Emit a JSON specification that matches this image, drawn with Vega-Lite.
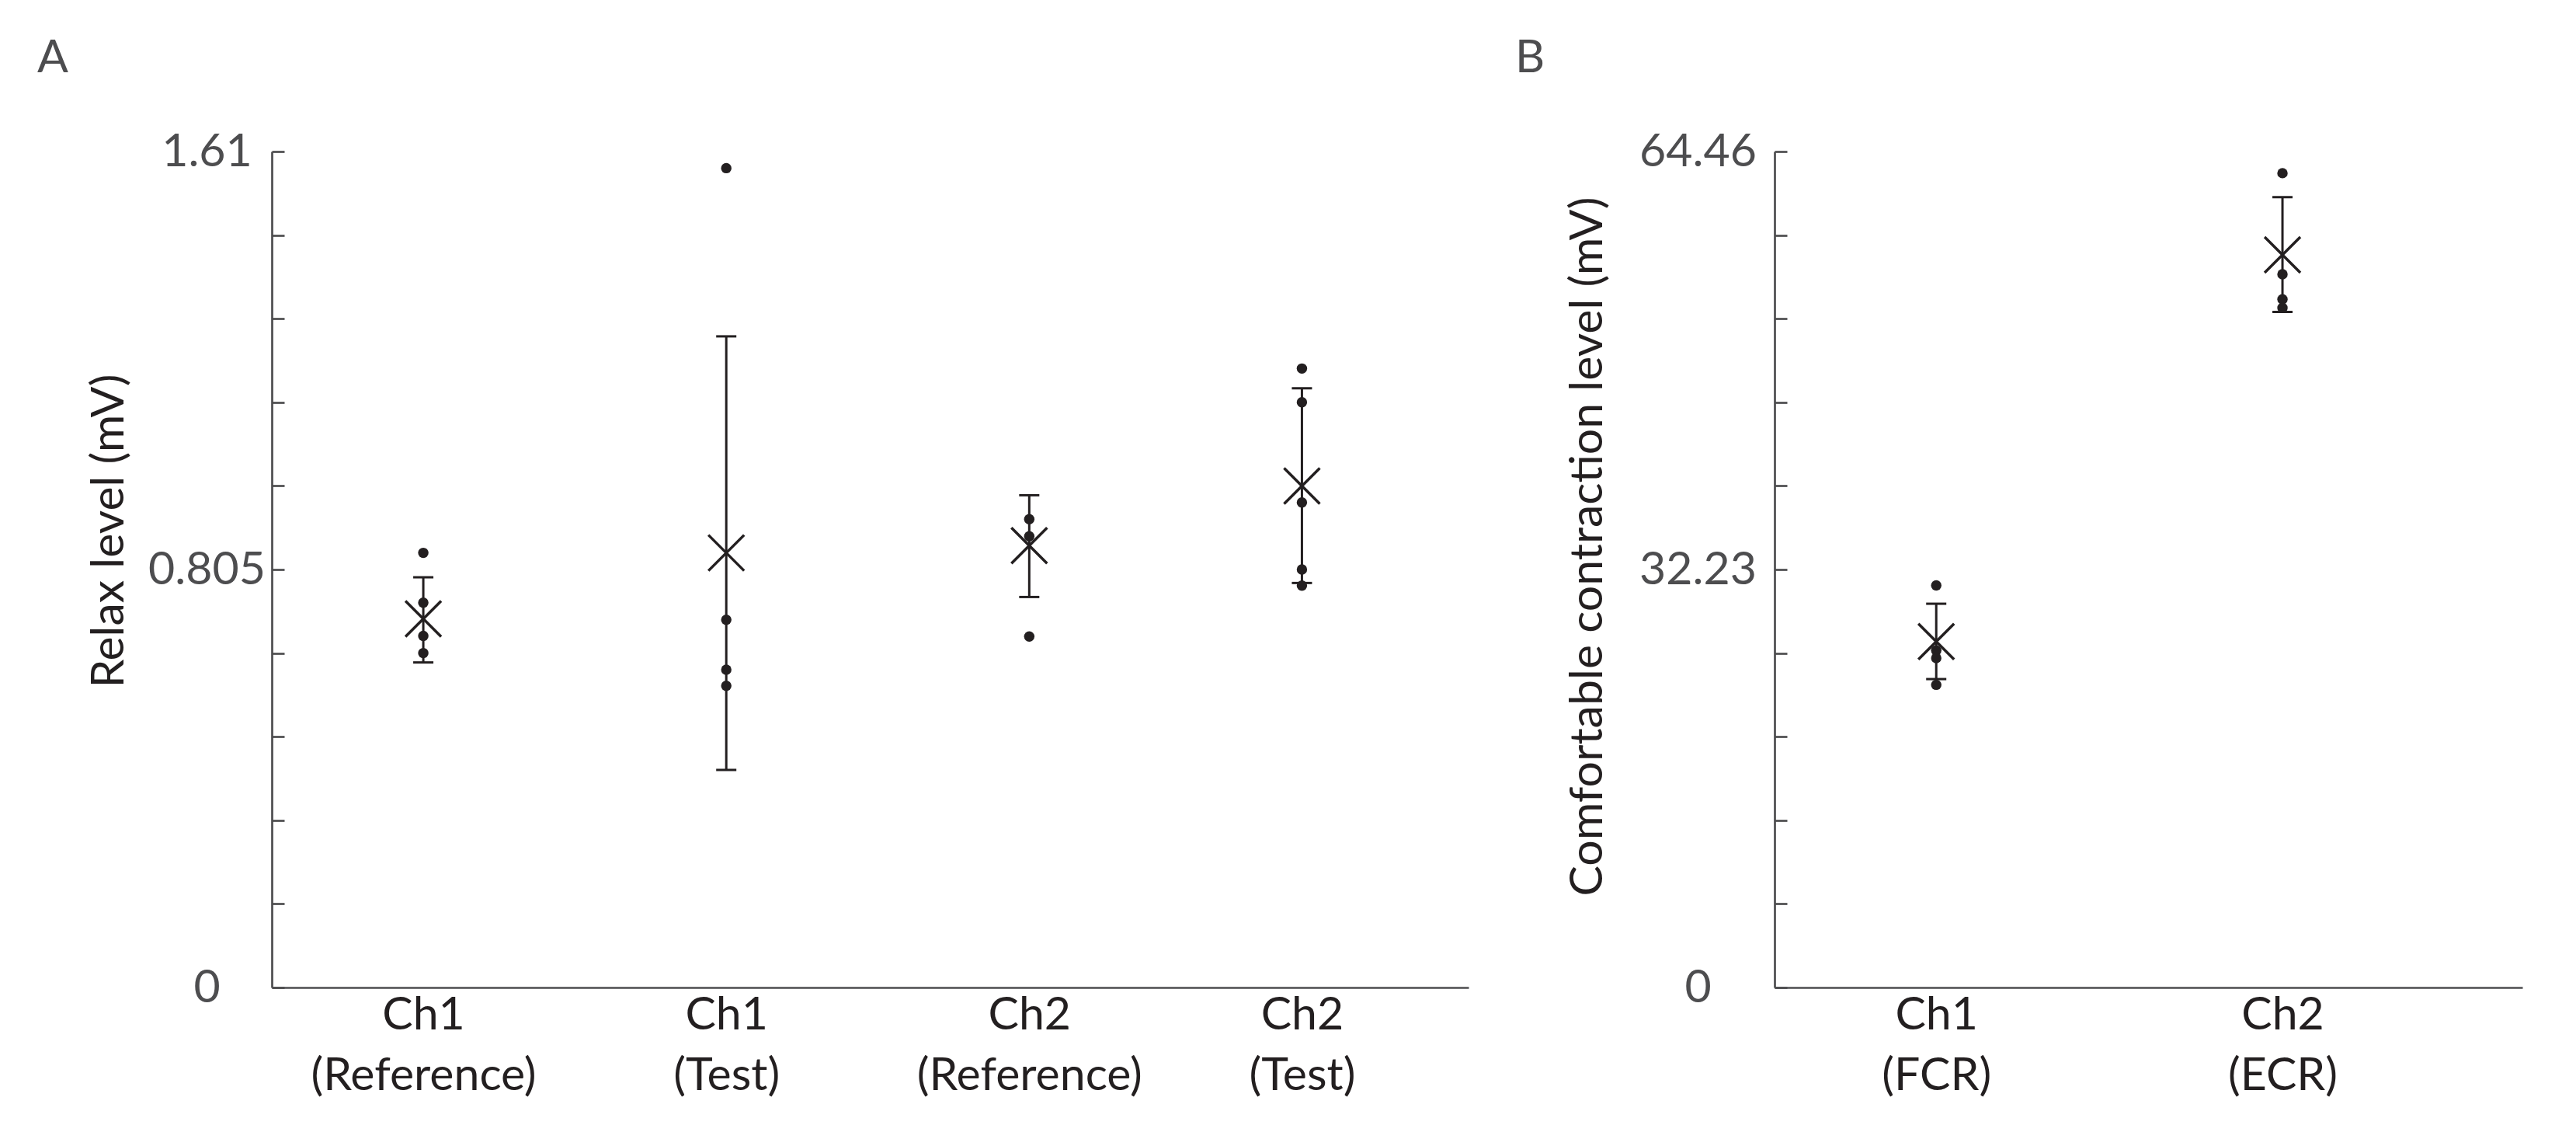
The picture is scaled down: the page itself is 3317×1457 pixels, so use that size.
{
  "$schema": "https://vega.github.io/schema/vega-lite/v6.json",
  "background": "white",
  "padding": {"left": 48, "top": 46, "right": 10, "bottom": 10},
  "spacing": 60,
  "config": {
    "view": {"stroke": null},
    "font": "Lato",
    "axis": {
      "grid": false,
      "domainColor": "#4d4d4f",
      "domainWidth": 2.7,
      "tickColor": "#4d4d4f",
      "tickWidth": 2.7,
      "labelFont": "Lato",
      "titleFont": "Lato",
      "labelFontSize": 59,
      "titleFontSize": 59,
      "titleFontWeight": "normal",
      "titleColor": "#231f20",
      "labelOverlap": false,
      "labelBound": false,
      "labelFlush": false,
      "labelLimit": 2000
    }
  },
  "hconcat": [
    {
      "width": 1541,
      "height": 1076,
      "title": {"text": "A", "anchor": "start", "frame": "group", "dx": -302, "baseline": "alphabetic", "offset": 14, "fontSize": 59, "font": "Lato", "fontWeight": "normal", "color": "#4d4d4f"},
      "layer": [
        {
          "data": {"values": [
            {"group": "Ch1 (Reference)", "pos": 1, "mean": 0.710, "lo": 0.626, "hi": 0.790},
            {"group": "Ch1 (Test)", "pos": 2, "mean": 0.837, "lo": 0.419, "hi": 1.254},
            {"group": "Ch2 (Reference)", "pos": 3, "mean": 0.851, "lo": 0.752, "hi": 0.948},
            {"group": "Ch2 (Test)", "pos": 3.9, "mean": 0.966, "lo": 0.779, "hi": 1.154}
          ]},
          "layer": [
            {
              "mark": {"type": "rule", "color": "#231f20", "strokeWidth": 3},
              "encoding": {
                "x": {"field": "pos", "type": "quantitative", "scale": {"domain": [0.5, 4.45], "nice": false, "zero": false},
                  "axis": {"values": [1, 2, 3, 3.9], "ticks": false, "tickSize": 0, "labelPadding": 6, "labelLineHeight": 78, "labelColor": "#231f20", "labelBaseline": "top",
                    "labelExpr": "datum.value == 1 ? ['Ch1', '(Reference)'] : datum.value == 2 ? ['Ch1', '(Test)'] : datum.value == 3 ? ['Ch2', '(Reference)'] : ['Ch2', '(Test)']",
                    "title": null}},
                "y": {"field": "lo", "type": "quantitative", "scale": {"domain": [0, 1.61], "nice": false, "zero": true},
                  "axis": {"values": [0, 0.161, 0.322, 0.483, 0.644, 0.805, 0.966, 1.127, 1.288, 1.449, 1.61], "tickSize": -16, "labelPadding": 100, "labelAlign": "center", "labelBaseline": "middle", "labelColor": "#4d4d4f",
                    "labelExpr": "datum.value == 0 ? '0' : datum.value == 0.805 ? '0.805' : datum.value == 1.61 ? '1.61' : ''",
                    "title": "Relax level (mV)", "titleX": -192, "titleY": 488, "titleAlign": "center", "titleBaseline": "alphabetic", "titleAngle": -90}},
                "y2": {"field": "hi"}
              }
            },
            {
              "mark": {"type": "tick", "orient": "horizontal", "size": 26, "thickness": 3, "color": "#231f20", "opacity": 1},
              "encoding": {"x": {"field": "pos", "type": "quantitative"}, "y": {"field": "lo", "type": "quantitative"}}
            },
            {
              "mark": {"type": "tick", "orient": "horizontal", "size": 26, "thickness": 3, "color": "#231f20", "opacity": 1},
              "encoding": {"x": {"field": "pos", "type": "quantitative"}, "y": {"field": "hi", "type": "quantitative"}}
            },
            {
              "mark": {"type": "point", "shape": "M-1,-1L1,1M1,-1L-1,1", "size": 2116, "filled": false, "stroke": "#231f20", "strokeWidth": 3.5, "opacity": 1},
              "encoding": {"x": {"field": "pos", "type": "quantitative"}, "y": {"field": "mean", "type": "quantitative"}}
            }
          ]
        },
        {
          "data": {"values": [
            {"group": "Ch1 (Reference)", "pos": 1, "value": 0.837},
            {"group": "Ch1 (Reference)", "pos": 1, "value": 0.741},
            {"group": "Ch1 (Reference)", "pos": 1, "value": 0.677},
            {"group": "Ch1 (Reference)", "pos": 1, "value": 0.644},
            {"group": "Ch1 (Test)", "pos": 2, "value": 1.578},
            {"group": "Ch1 (Test)", "pos": 2, "value": 0.708},
            {"group": "Ch1 (Test)", "pos": 2, "value": 0.612},
            {"group": "Ch1 (Test)", "pos": 2, "value": 0.581},
            {"group": "Ch2 (Reference)", "pos": 3, "value": 0.902},
            {"group": "Ch2 (Reference)", "pos": 3, "value": 0.869},
            {"group": "Ch2 (Reference)", "pos": 3, "value": 0.676},
            {"group": "Ch2 (Test)", "pos": 3.9, "value": 1.192},
            {"group": "Ch2 (Test)", "pos": 3.9, "value": 1.127},
            {"group": "Ch2 (Test)", "pos": 3.9, "value": 0.934},
            {"group": "Ch2 (Test)", "pos": 3.9, "value": 0.805},
            {"group": "Ch2 (Test)", "pos": 3.9, "value": 0.774}
          ]},
          "mark": {"type": "circle", "size": 180, "color": "#231f20", "opacity": 1},
          "encoding": {"x": {"field": "pos", "type": "quantitative"}, "y": {"field": "value", "type": "quantitative"}}
        }
      ]
    },
    {
      "width": 963,
      "height": 1076,
      "title": {"text": "B", "anchor": "start", "frame": "group", "dx": -334, "baseline": "alphabetic", "offset": 14, "fontSize": 59, "font": "Lato", "fontWeight": "normal", "color": "#4d4d4f"},
      "layer": [
        {
          "data": {"values": [
            {"group": "Ch1 (FCR)", "pos": 1, "mean": 26.68, "lo": 23.78, "hi": 29.59},
            {"group": "Ch2 (ECR)", "pos": 2, "mean": 56.49, "lo": 52.09, "hi": 60.94}
          ]},
          "layer": [
            {
              "mark": {"type": "rule", "color": "#231f20", "strokeWidth": 3},
              "encoding": {
                "x": {"field": "pos", "type": "quantitative", "scale": {"domain": [0.533, 2.693], "nice": false, "zero": false},
                  "axis": {"values": [1, 2], "ticks": false, "tickSize": 0, "labelPadding": 6, "labelLineHeight": 78, "labelColor": "#231f20", "labelBaseline": "top",
                    "labelExpr": "datum.value == 1 ? ['Ch1', '(FCR)'] : ['Ch2', '(ECR)']",
                    "title": null}},
                "y": {"field": "lo", "type": "quantitative", "scale": {"domain": [0, 64.46], "nice": false, "zero": true},
                  "axis": {"values": [0, 6.446, 12.892, 19.338, 25.784, 32.23, 38.676, 45.122, 51.568, 58.014, 64.46], "tickSize": -16, "labelPadding": 115, "labelAlign": "center", "labelBaseline": "middle", "labelColor": "#4d4d4f",
                    "labelExpr": "datum.value == 0 ? '0' : datum.value == 32.23 ? '32.23' : datum.value == 64.46 ? '64.46' : ''",
                    "title": "Comfortable contraction level (mV)", "titleX": -223, "titleY": 508, "titleAlign": "center", "titleBaseline": "alphabetic", "titleAngle": -90}},
                "y2": {"field": "hi"}
              }
            },
            {
              "mark": {"type": "tick", "orient": "horizontal", "size": 26, "thickness": 3, "color": "#231f20", "opacity": 1},
              "encoding": {"x": {"field": "pos", "type": "quantitative"}, "y": {"field": "lo", "type": "quantitative"}}
            },
            {
              "mark": {"type": "tick", "orient": "horizontal", "size": 26, "thickness": 3, "color": "#231f20", "opacity": 1},
              "encoding": {"x": {"field": "pos", "type": "quantitative"}, "y": {"field": "hi", "type": "quantitative"}}
            },
            {
              "mark": {"type": "point", "shape": "M-1,-1L1,1M1,-1L-1,1", "size": 2116, "filled": false, "stroke": "#231f20", "strokeWidth": 3.5, "opacity": 1},
              "encoding": {"x": {"field": "pos", "type": "quantitative"}, "y": {"field": "mean", "type": "quantitative"}}
            }
          ]
        },
        {
          "data": {"values": [
            {"group": "Ch1 (FCR)", "pos": 1, "value": 31.0},
            {"group": "Ch1 (FCR)", "pos": 1, "value": 25.98},
            {"group": "Ch1 (FCR)", "pos": 1, "value": 25.4},
            {"group": "Ch1 (FCR)", "pos": 1, "value": 23.34},
            {"group": "Ch2 (ECR)", "pos": 2, "value": 62.79},
            {"group": "Ch2 (ECR)", "pos": 2, "value": 54.99},
            {"group": "Ch2 (ECR)", "pos": 2, "value": 53.06},
            {"group": "Ch2 (ECR)", "pos": 2, "value": 52.40}
          ]},
          "mark": {"type": "circle", "size": 180, "color": "#231f20", "opacity": 1},
          "encoding": {"x": {"field": "pos", "type": "quantitative"}, "y": {"field": "value", "type": "quantitative"}}
        }
      ]
    }
  ]
}
